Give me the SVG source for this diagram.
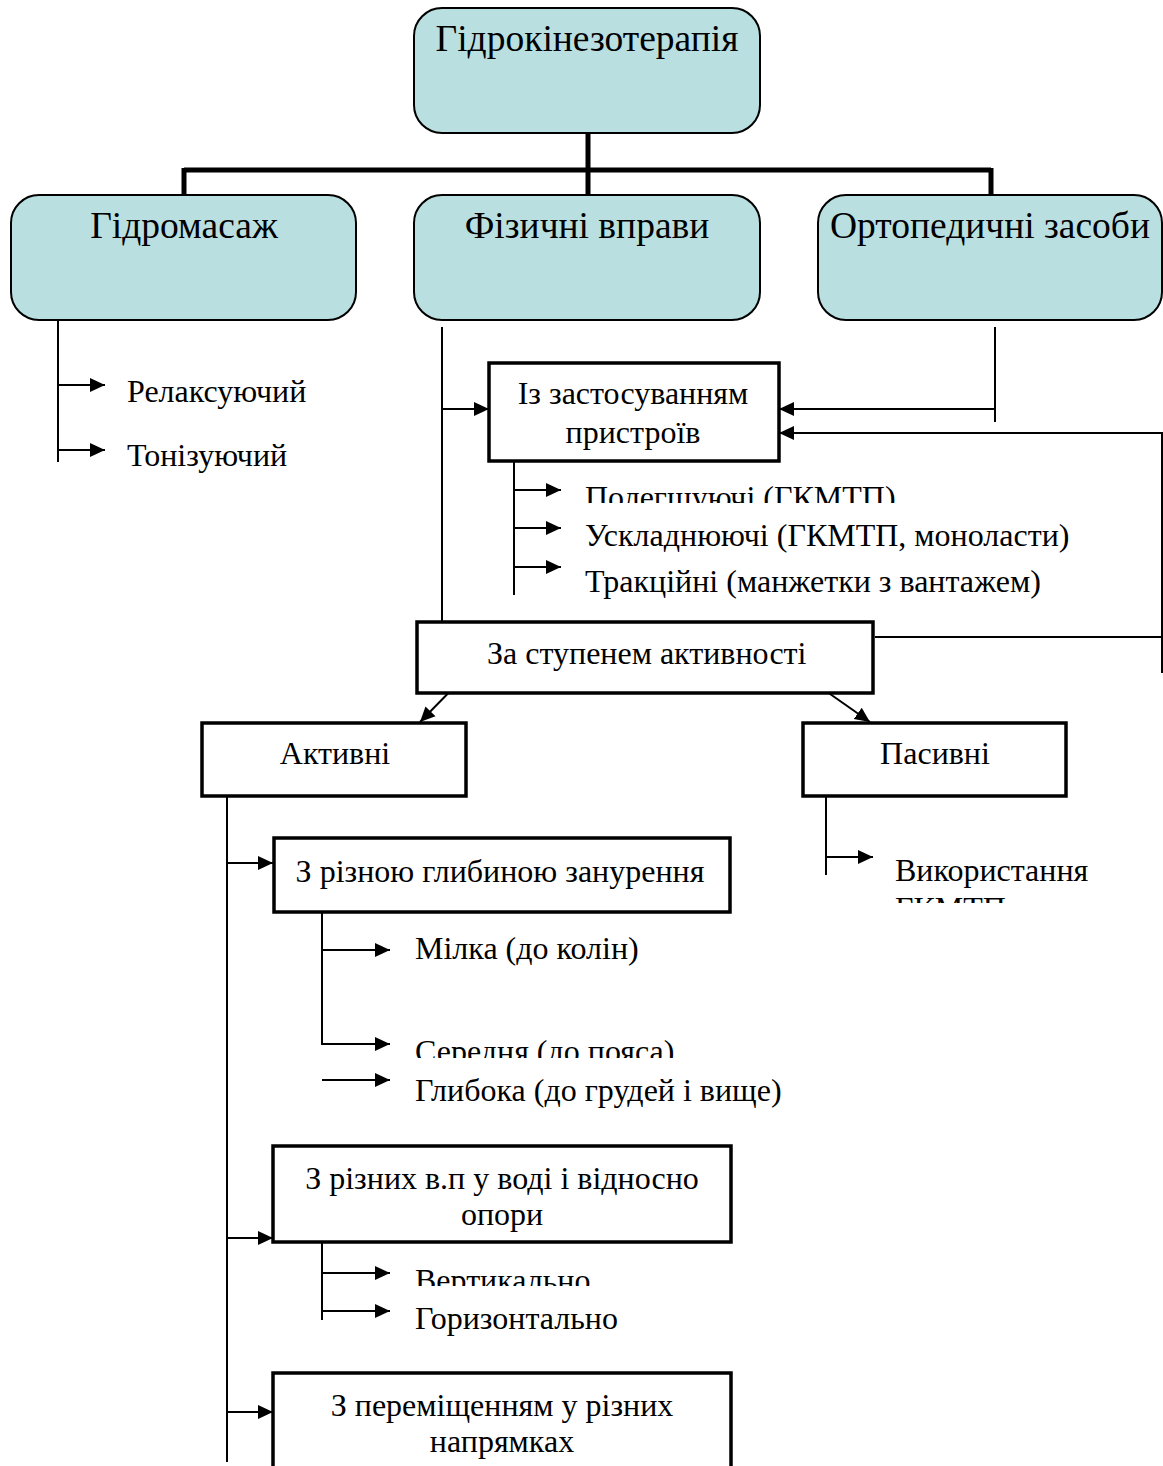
<svg xmlns="http://www.w3.org/2000/svg" width="1163" height="1466" viewBox="0 0 1163 1466">
<style>
text{font-family:"Liberation Serif","Times New Roman",serif;fill:#000}
.big{font-size:37.5px;text-anchor:middle}
.mid{font-size:32px}
.c{text-anchor:middle}
.rb{fill:#b9dfe1;stroke:#000;stroke-width:2}
.bx{fill:#fff;stroke:#000;stroke-width:3.5}
.ln{stroke:#000;stroke-width:2;fill:none}
.thick{stroke:#000;stroke-width:5;fill:none}
</style>
<defs>
<marker id="ah" markerUnits="userSpaceOnUse" markerWidth="16" markerHeight="16" refX="15" refY="8" orient="auto">
<path d="M0,1 L15,8 L0,15 Z" fill="#000"/>
</marker>
<clipPath id="c1"><rect x="0" y="0" width="1163" height="503"/></clipPath>
<clipPath id="c2"><rect x="0" y="0" width="1163" height="903"/></clipPath>
<clipPath id="c3"><rect x="0" y="0" width="1163" height="1058"/></clipPath>
<clipPath id="c4"><rect x="0" y="0" width="1163" height="1286"/></clipPath>
</defs>
<rect width="1163" height="1466" fill="#fff"/>

<g id="connectors">
<path class="thick" d="M588,133 V170 M184,170 H991 M184,168 V195 M588,168 V195 M991,168 V195"/>
<path class="ln" d="M58,320 V462"/>
<path class="ln" d="M58,385 H105" marker-end="url(#ah)"/>
<path class="ln" d="M58,450 H105" marker-end="url(#ah)"/>
<path class="ln" d="M442,327 V662" marker-end="url(#ah)"/>
<path class="ln" d="M442,409 H489" marker-end="url(#ah)"/>
<path class="ln" d="M995,327 V422"/>
<path class="ln" d="M995,409 H779" marker-end="url(#ah)"/>
<path class="ln" d="M875,637 H1162 V433 H779" marker-end="url(#ah)"/>
<path class="ln" d="M1162,637 V673"/>
<path class="ln" d="M514,451 V595"/>
<path class="ln" d="M514,490 H561" marker-end="url(#ah)"/>
<path class="ln" d="M514,528 H561" marker-end="url(#ah)"/>
<path class="ln" d="M514,567 H561" marker-end="url(#ah)"/>
<path class="ln" d="M466,675 L420,722" marker-end="url(#ah)"/>
<path class="ln" d="M803,675 L870,722" marker-end="url(#ah)"/>
<path class="ln" d="M227,785 V1462"/>
<path class="ln" d="M227,863 H273" marker-end="url(#ah)"/>
<path class="ln" d="M227,1238 H273" marker-end="url(#ah)"/>
<path class="ln" d="M227,1412 H273" marker-end="url(#ah)"/>
<path class="ln" d="M826,778 V875"/>
<path class="ln" d="M826,857 H873" marker-end="url(#ah)"/>
<path class="ln" d="M322,902 V1045"/>
<path class="ln" d="M322,950 H390" marker-end="url(#ah)"/>
<path class="ln" d="M322,1044 H390" marker-end="url(#ah)"/>
<path class="ln" d="M322,1080 H390" marker-end="url(#ah)"/>
<path class="ln" d="M322,1223 V1320"/>
<path class="ln" d="M322,1273 H390" marker-end="url(#ah)"/>
<path class="ln" d="M322,1311 H390" marker-end="url(#ah)"/>
</g>

<g id="n-root"><rect class="rb" x="414" y="8" width="346" height="125" rx="28"/><text class="big" x="587" y="51">Гідрокінезотерапія</text></g>
<g id="n-hydromassage"><rect class="rb" x="11" y="195" width="345" height="125" rx="28"/><text class="big" x="184" y="238">Гідромасаж</text></g>
<g id="n-exercises"><rect class="rb" x="414" y="195" width="346" height="125" rx="28"/><text class="big" x="587" y="238">Фізичні вправи</text></g>
<g id="n-ortho"><rect class="rb" x="818" y="195" width="344" height="125" rx="28"/><text class="big" x="990" y="238">Ортопедичні засоби</text></g>

<g id="n-relax"><text class="mid" x="127" y="402">Релаксуючий</text></g>
<g id="n-tonic"><text class="mid" x="127" y="466">Тонізуючий</text></g>

<g id="n-devices"><rect class="bx" x="489" y="363" width="290" height="98"/><text class="mid c" x="633" y="404">Із застосуванням</text><text class="mid c" x="633" y="443">пристроїв</text></g>
<g id="n-light"><text class="mid" x="585" y="508" clip-path="url(#c1)">Полегшуючі (ГКМТП)</text></g>
<g id="n-hard"><text class="mid" x="585" y="546">Ускладнюючі (ГКМТП, моноласти)</text></g>
<g id="n-traction"><text class="mid" x="585" y="592">Тракційні (манжетки з вантажем)</text></g>

<g id="n-activity"><rect class="bx" x="417" y="622" width="456" height="71"/><text class="mid" x="487" y="664">За ступенем активності</text></g>
<g id="n-active"><rect class="bx" x="202" y="723" width="264" height="73"/><text class="mid c" x="335" y="764">Активні</text></g>
<g id="n-passive"><rect class="bx" x="803" y="723" width="263" height="73"/><text class="mid c" x="935" y="764">Пасивні</text></g>
<g id="n-use"><text class="mid" x="895" y="881">Використання</text><text class="mid" x="895" y="919" clip-path="url(#c2)">ГКМТП</text></g>

<g id="n-depth"><rect class="bx" x="274" y="838" width="456" height="74"/><text class="mid c" x="500" y="882">З різною глибиною занурення</text></g>
<g id="n-shallow"><text class="mid" x="415" y="959">Мілка (до колін)</text></g>
<g id="n-medium"><text class="mid" x="415" y="1062" clip-path="url(#c3)">Середня (до пояса)</text></g>
<g id="n-deep"><text class="mid" x="415" y="1101">Глибока (до грудей і вище)</text></g>

<g id="n-positions"><rect class="bx" x="273" y="1146" width="458" height="96"/><text class="mid c" x="502" y="1189">З різних в.п у воді і відносно</text><text class="mid c" x="502" y="1225">опори</text></g>
<g id="n-vertical"><text class="mid" x="415" y="1291" clip-path="url(#c4)">Вертикально</text></g>
<g id="n-horizontal"><text class="mid" x="415" y="1329">Горизонтально</text></g>

<g id="n-moving"><rect class="bx" x="273" y="1373" width="458" height="110"/><text class="mid c" x="502" y="1416">З переміщенням у різних</text><text class="mid c" x="502" y="1452">напрямках</text></g>
</svg>
